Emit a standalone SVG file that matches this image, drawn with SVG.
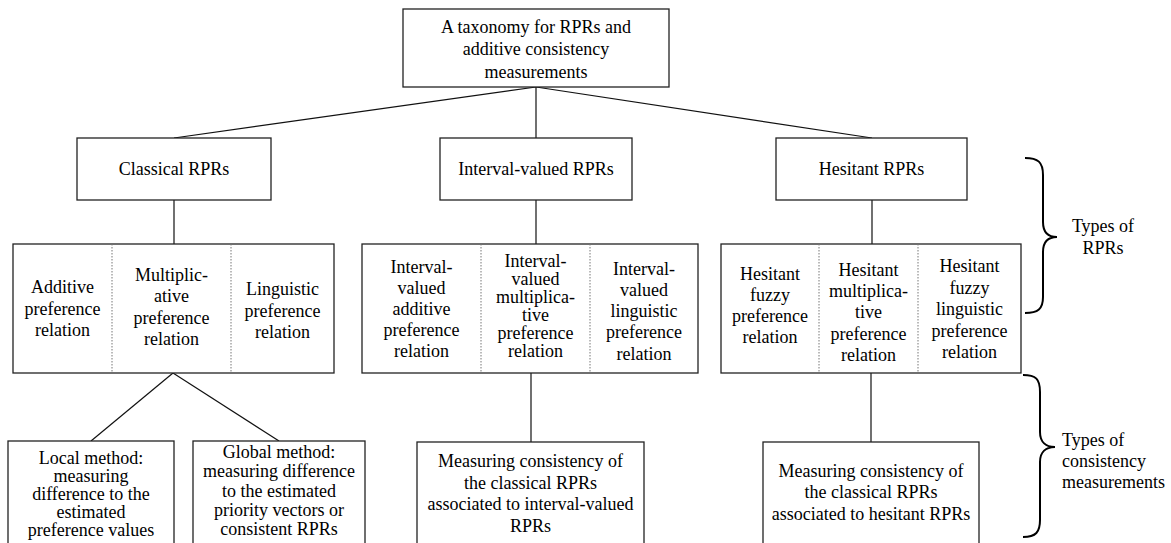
<svg xmlns="http://www.w3.org/2000/svg" width="1171" height="543" viewBox="0 0 1171 543">
<style>
.box{fill:#fff;stroke:#222;stroke-width:1.3}
.div{stroke:#777;stroke-width:1;stroke-dasharray:1.5 1.5;fill:none}
.ln{stroke:#111;stroke-width:1.2;fill:none}
.br{stroke:#000;stroke-width:2;fill:none}
text{font-family:"Liberation Serif","Times New Roman",serif;font-size:18px;fill:#000;text-anchor:middle}
.l{text-anchor:start}
</style>
<rect width="1171" height="543" fill="#fff"/>
<g id="connectors">
<line class="ln" x1="536" y1="87" x2="174" y2="138"/>
<line class="ln" x1="536" y1="87" x2="536" y2="138"/>
<line class="ln" x1="536" y1="87" x2="872" y2="138"/>
<line class="ln" x1="174" y1="200" x2="174" y2="244"/>
<line class="ln" x1="536" y1="200" x2="536" y2="244"/>
<line class="ln" x1="872" y1="200" x2="872" y2="244"/>
<line class="ln" x1="173" y1="373" x2="91" y2="441"/>
<line class="ln" x1="173" y1="373" x2="279" y2="441"/>
<line class="ln" x1="531" y1="373" x2="531" y2="442"/>
<line class="ln" x1="871" y1="373" x2="871" y2="442"/>
</g>
<g id="root">
<rect class="box" x="403" y="9" width="266" height="78"/>
<text x="536" y="32.5">A taxonomy for RPRs and</text>
<text x="536" y="55">additive consistency</text>
<text x="536" y="77.5">measurements</text>
</g>
<g id="classical">
<rect class="box" x="77" y="138" width="194" height="62"/>
<text x="174" y="175">Classical RPRs</text>
</g>
<g id="interval">
<rect class="box" x="440" y="138" width="192" height="62"/>
<text x="536" y="175">Interval-valued RPRs</text>
</g>
<g id="hesitant">
<rect class="box" x="776" y="138" width="191" height="62"/>
<text x="871.5" y="175">Hesitant RPRs</text>
</g>
<g id="classical-types">
<rect class="box" x="13" y="244" width="321" height="129"/>
<line class="div" x1="112" y1="244" x2="112" y2="373"/>
<line class="div" x1="231" y1="244" x2="231" y2="373"/>
<text x="62.5" y="293">Additive</text>
<text x="62.5" y="314.5">preference</text>
<text x="62.5" y="336">relation</text>
<text x="171.5" y="280.5">Multiplic-</text>
<text x="171.5" y="302">ative</text>
<text x="171.5" y="323.5">preference</text>
<text x="171.5" y="345">relation</text>
<text x="282.5" y="295">Linguistic</text>
<text x="282.5" y="316.5">preference</text>
<text x="282.5" y="338">relation</text>
</g>
<g id="interval-types">
<rect class="box" x="362" y="244" width="336" height="129"/>
<line class="div" x1="481" y1="244" x2="481" y2="373"/>
<line class="div" x1="590" y1="244" x2="590" y2="373"/>
<text x="421.5" y="273">Interval-</text>
<text x="421.5" y="294">valued</text>
<text x="421.5" y="315">additive</text>
<text x="421.5" y="336">preference</text>
<text x="421.5" y="357">relation</text>
<text x="535.5" y="267">Interval-</text>
<text x="535.5" y="285">valued</text>
<text x="535.5" y="303">multiplica-</text>
<text x="535.5" y="321">tive</text>
<text x="535.5" y="339">preference</text>
<text x="535.5" y="357">relation</text>
<text x="644" y="275">Interval-</text>
<text x="644" y="296">valued</text>
<text x="644" y="317">linguistic</text>
<text x="644" y="338">preference</text>
<text x="644" y="359.5">relation</text>
</g>
<g id="hesitant-types">
<rect class="box" x="721" y="244" width="300" height="129"/>
<line class="div" x1="819" y1="244" x2="819" y2="373"/>
<line class="div" x1="918" y1="244" x2="918" y2="373"/>
<text x="770" y="280">Hesitant</text>
<text x="770" y="301">fuzzy</text>
<text x="770" y="322">preference</text>
<text x="770" y="343">relation</text>
<text x="868.5" y="275.5">Hesitant</text>
<text x="868.5" y="297">multiplica-</text>
<text x="868.5" y="318">tive</text>
<text x="868.5" y="339.5">preference</text>
<text x="868.5" y="361">relation</text>
<text x="969.5" y="272">Hesitant</text>
<text x="969.5" y="293.5">fuzzy</text>
<text x="969.5" y="315">linguistic</text>
<text x="969.5" y="336.5">preference</text>
<text x="969.5" y="358">relation</text>
</g>
<g id="local">
<rect class="box" x="8" y="441" width="166" height="120"/>
<text x="91" y="463.5">Local method:</text>
<text x="91" y="481.5">measuring</text>
<text x="91" y="499.5">difference to the</text>
<text x="91" y="517.5">estimated</text>
<text x="91" y="535.5">preference values</text>
</g>
<g id="global">
<rect class="box" x="193" y="441" width="172" height="120"/>
<text x="279" y="458">Global method:</text>
<text x="279" y="477">measuring difference</text>
<text x="279" y="496.5">to the estimated</text>
<text x="279" y="516">priority vectors or</text>
<text x="279" y="535">consistent RPRs</text>
</g>
<g id="interval-measure">
<rect class="box" x="417" y="442" width="227" height="120"/>
<text x="530.5" y="467">Measuring consistency of</text>
<text x="530.5" y="488.5">the classical RPRs</text>
<text x="530.5" y="510">associated to interval-valued</text>
<text x="530.5" y="531.5">RPRs</text>
</g>
<g id="hesitant-measure">
<rect class="box" x="763" y="442" width="216" height="120"/>
<text x="871" y="476.5">Measuring consistency of</text>
<text x="871" y="498">the classical RPRs</text>
<text x="871" y="519.5">associated to hesitant RPRs</text>
</g>
<g id="brace-rprs">
<path class="br" d="M1025,158 C1038,158 1043,162 1043,175 L1043,222 C1043,232 1048,237 1057,237 C1048,237 1043,242 1043,252 L1043,297 C1043,309 1038,313 1025,313"/>
<text x="1103" y="232">Types of</text>
<text x="1103" y="253.5">RPRs</text>
</g>
<g id="brace-consistency">
<path class="br" d="M1023,375 C1036,375 1040,379 1040,392 L1040,432 C1040,442 1046,447 1055,447 C1046,447 1040,452 1040,462 L1040,520 C1040,532 1036,537 1023,537"/>
<text class="l" x="1062" y="446">Types of</text>
<text class="l" x="1062" y="467">consistency</text>
<text class="l" x="1062" y="488">measurements</text>
</g>
</svg>
